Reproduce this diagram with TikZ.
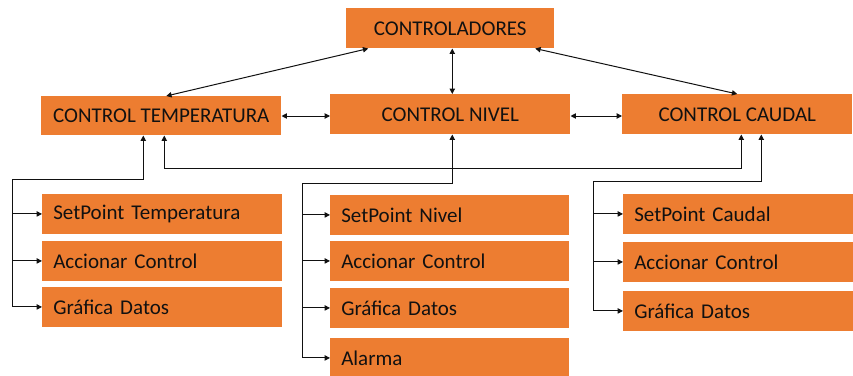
\documentclass[tikz,border=0pt]{standalone}
\usepackage{fontspec}
\setmainfont{Carlito}
\usetikzlibrary{arrows.meta, positioning, calc}
\definecolor{ctOrange}{HTML}{ED7D31}
\definecolor{ctInk}{HTML}{111111}
\tikzset{
  head/.style={
    fill=ctOrange, inner sep=0pt, anchor=north west,
    minimum height=30pt, font=\fontsize{15.75}{18}\selectfont, text=ctInk
  },
  item/.style={head, minimum height=29.5pt, inner xsep=8.25pt,
    text width=163.5pt, align=left},
  link/.style={{Triangle[length=4pt, width=4pt]}-{Triangle[length=4pt, width=4pt]},
    line width=0.75pt, draw=ctInk},
  feed/.style={-{Triangle[length=4pt, width=4pt]}, line width=0.75pt, draw=ctInk},
  rail/.style={line width=0.75pt, draw=ctInk},
}
\begin{document}
\begin{tikzpicture}[x=0.75pt, y=-0.75pt]
  \useasboundingbox (0,0) rectangle (853,375);
  % main controllers
  \node[head, minimum width=156pt] (ctrl) at (346,8) {CONTROLADORES};
  \node[head, minimum width=180pt, minimum height=29.25pt] (ctemp) at (41,96) {CONTROL TEMPERATURA};
  \node[head, minimum width=180pt] (cnivel) at (330,94) {CONTROL NIVEL};
  \node[head, minimum width=172.5pt] (ccaudal) at (622,94) {CONTROL CAUDAL};

  % functions of each controller
  \node[item] (tset) at (42,194) {SetPoint Temperatura};
  \node[item] (tacc) at (42,241) {Accionar Control};
  \node[item] (tgra) at (42,287) {Gráfica Datos};
  \node[item, text width=162.75pt] (nset) at (330,195) {SetPoint Nivel};
  \node[item, text width=162.75pt] (nacc) at (330,241) {Accionar Control};
  \node[item, text width=162.75pt] (ngra) at (330,288) {Gráfica Datos};
  \node[item, text width=162.75pt] (nala) at (330,338) {Alarma};
  \node[item, text width=156pt] (cset) at (623,194) {SetPoint Caudal};
  \node[item, text width=156pt] (cacc) at (623,242) {Accionar Control};
  \node[item, text width=156pt] (cgra) at (623,291) {Gráfica Datos};

  % links between controllers
  \draw[link] ($(ctrl.south)+(-82,0)$) -- ($(ctemp.north)+(5,0)$);
  \draw[link] ($(ctrl.south)+(2,0)$) -- ($(cnivel.north)+(2,0)$);
  \draw[link] ($(ctrl.south)+(85,0)$) -- (ccaudal.north);
  \draw[link] (ctemp.east |- 0,116) -- (cnivel.west |- 0,116);
  \draw[link] (cnivel.east |- 0,116) -- (ccaudal.west |- 0,116);
  \coordinate (tcA) at ($(ctemp.south)+(3,0)$);
  \coordinate (tcB) at ($(ccaudal.south)+(4,0)$);
  \draw[link] (tcA) -- (tcA |- 0,168) -- (tcB |- 0,168) -- (tcB);

  % rails to the functions
  \coordinate (tRail) at (12,179);
  \coordinate (nRail) at (302,183);
  \coordinate (cRail) at (593,181);
  \draw[feed] (tRail) -| ($(ctemp.south)+(-18,0)$);
  \draw[feed] (nRail) -| ($(cnivel.south)+(2,0)$);
  \draw[feed] (cRail) -| ($(ccaudal.south)+(24,0)$);
  \draw[rail] (tRail) -- (tRail |- tgra.west);
  \draw[rail] (nRail) -- (nRail |- nala.west);
  \draw[rail] (cRail) -- (cRail |- cgra.west);
  \foreach \n in {tset, tacc, tgra}
    \draw[feed] (tRail |- \n.west) -- (\n.west);
  \foreach \n in {nset, nacc, ngra, nala}
    \draw[feed] (nRail |- \n.west) -- (\n.west);
  \foreach \n in {cset, cacc, cgra}
    \draw[feed] (cRail |- \n.west) -- (\n.west);
\end{tikzpicture}
\end{document}
